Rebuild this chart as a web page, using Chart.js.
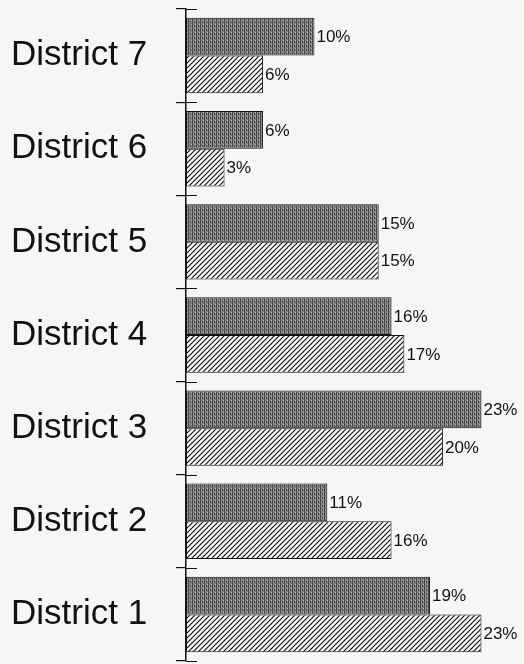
<!DOCTYPE html>
<html>
<head>
<meta charset="utf-8">
<script src="https://cdn.jsdelivr.net/npm/chart.js@4/dist/chart.umd.min.js"></script>
<style>
  html, body { margin: 0; padding: 0; background: #f6f6f6; }
  #wrap { width: 524px; height: 664px; position: relative; }
</style>
</head>
<body>
<div id="wrap"><canvas id="districtChart"></canvas></div>
<script>
// district shares, bottom to top as in the picture
const districts = ["District 1", "District 2", "District 3", "District 4", "District 5", "District 6", "District 7"];
const darkValues = [19, 11, 23, 16, 15, 6, 10];
const hatchValues = [23, 16, 20, 17, 15, 3, 6];
const xMax = 26;

function stipplePattern() {
    const c = document.createElement("canvas");
    c.width = 4; c.height = 4;
    const g = c.getContext("2d");
    g.fillStyle = "#828282";
    g.fillRect(0, 0, 4, 4);
    g.fillStyle = "#474747";
    g.fillRect(0, 0, 1, 4);
    g.fillRect(2, 1, 1, 2);
    g.fillStyle = "#b0b0b0";
    g.fillRect(1, 2, 1, 1);
    g.fillRect(3, 0, 1, 1);
    return g.createPattern(c, "repeat");
}

function hatchPattern() {
    const s = 5;
    const c = document.createElement("canvas");
    c.width = s; c.height = s;
    const g = c.getContext("2d");
    g.fillStyle = "#fbfbfb";
    g.fillRect(0, 0, s, s);
    g.strokeStyle = "#111";
    g.lineWidth = 1.2;
    g.beginPath();
    g.moveTo(0, s); g.lineTo(s, 0);
    g.moveTo(-1, 1); g.lineTo(1, -1);
    g.moveTo(s - 1, s + 1); g.lineTo(s + 1, s - 1);
    g.stroke();
    return g.createPattern(c, "repeat");
}

// percent labels at the end of each bar
const valueLabels = {
    id: "valueLabels",
    afterDatasetsDraw(chart) {
        const ctx = chart.ctx;
        ctx.save();
        ctx.font = "17px 'Liberation Sans', Arial, sans-serif";
        ctx.fillStyle = "#111";
        ctx.textAlign = "left";
        ctx.textBaseline = "middle";
        chart.data.datasets.forEach((ds, i) => {
            chart.getDatasetMeta(i).data.forEach((bar, j) => {
                ctx.fillText(ds.data[j] + "%", bar.x + 2, bar.y + 1);
            });
        });
        ctx.restore();
    }
};

// short stubs to the right of the axis at each category boundary
const crossTicks = {
    id: "crossTicks",
    afterDraw(chart) {
        const y = chart.scales.y;
        const x0 = chart.chartArea.left;
        const ctx = chart.ctx;
        ctx.save();
        ctx.strokeStyle = "#111";
        ctx.lineWidth = 1.2;
        ctx.beginPath();
        for (let i = 0; i <= districts.length; i++) {
            const py = Math.round(y.getPixelForValue(i - 0.5)) + 0.5;
            ctx.moveTo(x0, py);
            ctx.lineTo(x0 + 11, py);
        }
        ctx.stroke();
        ctx.restore();
    }
};

const ctx = document.getElementById("districtChart").getContext("2d");

new Chart(ctx, {
    type: "bar",
    data: {
        labels: districts,
        datasets: [{
            label: "Series 1",
            data: darkValues,
            backgroundColor: stipplePattern(),
            borderColor: "#111",
            borderWidth: 1,
            borderSkipped: false
        }, {
            label: "Series 2",
            data: hatchValues,
            backgroundColor: hatchPattern(),
            borderColor: "#111",
            borderWidth: 1,
            borderSkipped: false
        }]
    },
    options: {
        indexAxis: "y",
        responsive: true,
        maintainAspectRatio: false,
        animation: false,
        categoryPercentage: 0.81,
        barPercentage: 1,
        layout: { padding: { left: 11, right: 4, top: 9, bottom: 3 } },
        plugins: {
            legend: { display: false },
            tooltip: { enabled: false }
        },
        scales: {
            x: {
                display: false,
                min: 0,
                max: xMax
            },
            y: {
                reverse: true,
                afterFit(scale) {
                    scale.width = 175;
                    scale.paddingTop = 0;
                    scale.paddingBottom = 0;
                },
                border: { color: "#111", width: 1.5 },
                grid: {
                    offset: true,
                    drawOnChartArea: false,
                    tickLength: 10,
                    color: "#111",
                    lineWidth: 1.2
                },
                ticks: {
                    crossAlign: "far",
                    color: "#111",
                    font: { family: "'Liberation Sans', Arial, sans-serif", size: 35 }
                }
            }
        }
    },
    plugins: [valueLabels, crossTicks]
});
</script>
</body>
</html>
